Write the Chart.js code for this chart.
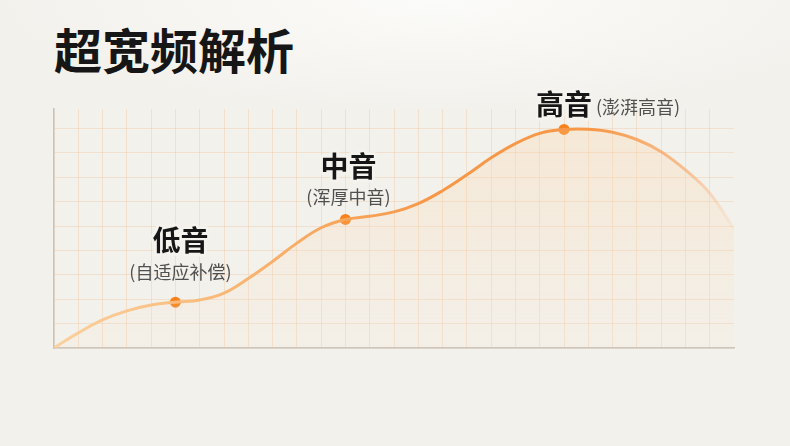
<!DOCTYPE html>
<html>
<head>
<meta charset="utf-8">
<script src="https://cdn.jsdelivr.net/npm/chart.js@4.4.1/dist/chart.umd.min.js"></script>
<style>
  html, body { margin: 0; padding: 0; }
  body {
    width: 790px; height: 446px; overflow: hidden; position: relative;
    background: radial-gradient(ellipse 55% 25% at 55% 0%, #fbfbf9 0%, #f3f1ec 100%);
    font-family: "Noto Sans CJK SC", sans-serif;
  }
  #title {
    position: absolute; left: 54px; top: 18px; margin: 0;
    font-size: 48px; line-height: 60px; font-weight: 700; color: #161616;
  }
  #wrap { position: absolute; left: 0; top: 0; width: 790px; height: 446px; }
</style>
</head>
<body>
<h1 id="title">超宽频解析</h1>
<div id="wrap"><canvas id="curve"></canvas></div>
<script>
// frequency response curve, in grid units
const freqX = [0, 1, 2, 3, 4, 5, 6, 7, 8, 9, 10, 11, 12, 13, 14, 15, 16, 17, 18, 19, 20, 21, 22, 23, 24, 25, 26, 27, 28];
const gainY = [0, 0.62, 1.15, 1.52, 1.76, 1.88, 1.97, 2.25, 2.85, 3.55, 4.3, 4.93, 5.27, 5.4, 5.58, 5.92, 6.45, 7.1, 7.8, 8.38, 8.8, 8.96, 8.97, 8.85, 8.55, 8.05, 7.3, 6.35, 4.9];

// highlighted bands
const bandX = [5, 12, 21];
const bandY = [1.88, 5.27, 8.96];
const bandNames = ['低音', '中音', '高音'];
const bandNotes = ['(自适应补偿)', '(浑厚中音)', '(澎湃高音)'];

const curvePoints = freqX.map((x, i) => ({ x: x, y: gainY[i] }));
const bandPoints = bandX.map((x, i) => ({ x: x, y: bandY[i] }));

const bandLabels = {
    id: 'bandLabels',
    afterDatasetsDraw(chart) {
        const ctx = chart.ctx;
        const meta = chart.getDatasetMeta(1);
        // where each label sits relative to its point
        const place = [
            { dx: 5, nameDy: -62, noteDx: 5, noteDy: -30, inline: false },
            { dx: 3, nameDy: -53, noteDx: 3, noteDy: -22, inline: false },
            { dx: 0, nameDy: -25, noteDx: 32, noteDy: -22, inline: true }
        ];
        ctx.save();
        meta.data.forEach((pt, i) => {
            const p = place[i];
            ctx.textBaseline = 'middle';
            ctx.font = 'bold 28px "Noto Sans CJK SC"';
            ctx.textAlign = 'center';
            ctx.lineJoin = 'round';
            ctx.strokeStyle = 'rgba(245,243,238,0.85)';
            ctx.lineWidth = 6;
            ctx.strokeText(bandNames[i], pt.x + p.dx, pt.y + p.nameDy);
            ctx.fillStyle = '#161616';
            ctx.fillText(bandNames[i], pt.x + p.dx, pt.y + p.nameDy);

            ctx.font = '18px "Noto Sans CJK SC"';
            ctx.textAlign = p.inline ? 'left' : 'center';
            ctx.fillStyle = '#505050';
            ctx.fillText(bandNotes[i], pt.x + p.noteDx, pt.y + p.noteDy);
        });
        ctx.restore();
    }
};

function lineGradient(context) {
    const area = context.chart.chartArea;
    if (!area) return '#f7a04f';
    const g = context.chart.ctx.createLinearGradient(area.left, 0, area.right, 0);
    g.addColorStop(0, 'rgba(250,205,150,0.9)');
    g.addColorStop(0.3, 'rgba(248,178,110,1)');
    g.addColorStop(0.55, 'rgba(246,152,72,1)');
    g.addColorStop(0.8, 'rgba(246,152,72,1)');
    g.addColorStop(0.93, 'rgba(247,172,112,0.7)');
    g.addColorStop(1, 'rgba(247,185,135,0.1)');
    return g;
}

function fillGradient(context) {
    const area = context.chart.chartArea;
    if (!area) return 'rgba(252,210,160,0.2)';
    const g = context.chart.ctx.createLinearGradient(0, area.top, 0, area.bottom);
    g.addColorStop(0, 'rgba(252,208,155,0.3)');
    g.addColorStop(0.5, 'rgba(252,215,170,0.2)');
    g.addColorStop(1, 'rgba(252,225,190,0.08)');
    return g;
}

new Chart(document.getElementById('curve'), {
    type: 'line',
    data: {
        datasets: [{
            data: curvePoints,
            borderColor: lineGradient,
            backgroundColor: fillGradient,
            borderWidth: 3,
            fill: 'origin',
            pointRadius: 0,
            tension: 0.4
        },
        {
            data: bandPoints,
            showLine: false,
            pointRadius: 5.5,
            pointBorderWidth: 0,
            pointBackgroundColor: '#f7821c'
        }]
    },
    options: {
        responsive: true,
        maintainAspectRatio: false,
        animation: false,
        layout: { padding: { left: 54, right: 56, top: 109, bottom: 98 } },
        plugins: { legend: { display: false }, tooltip: { enabled: false } },
        scales: {
            x: {
                type: 'linear',
                min: 0,
                max: 28,
                ticks: { display: false, stepSize: 1 },
                grid: {
                    drawTicks: false,
                    lineWidth: 1,
                    color: c => c.tick && c.tick.value >= 28 ? 'rgba(0,0,0,0)' : 'rgba(240,185,135,0.3)'
                },
                border: { color: '#c6c3be', width: 1.5 }
            },
            y: {
                min: 0,
                max: 9.8,
                ticks: { display: false, stepSize: 1, includeBounds: false },
                grid: { drawTicks: false, lineWidth: 1, color: 'rgba(240,185,135,0.3)' },
                border: { color: '#c6c3be', width: 1.5 }
            }
        }
    },
    plugins: [bandLabels]
});
</script>
</body>
</html>
